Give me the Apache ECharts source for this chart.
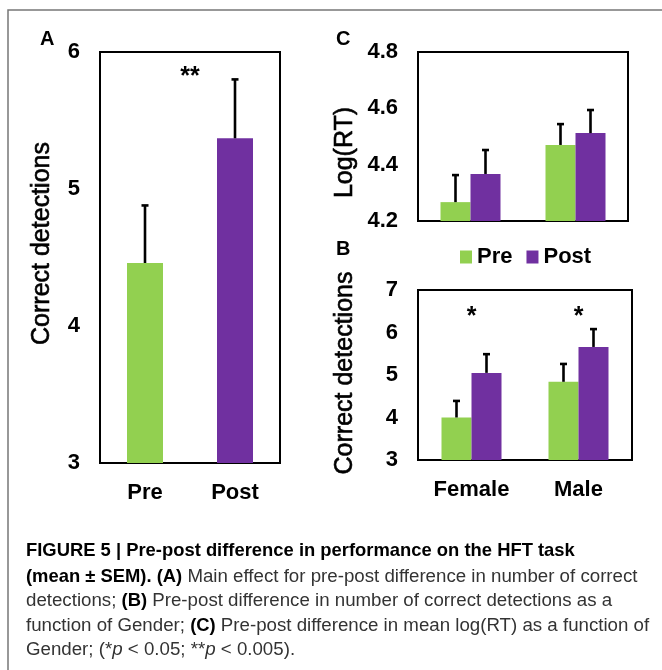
<!DOCTYPE html>
<html>
<head>
<meta charset="UTF-8">
<title>Figure 5</title>
<script src="https://cdn.jsdelivr.net/npm/echarts@6/dist/echarts.min.js"></script>
<style>
    html, body { margin: 0; padding: 0; background: #fff; }
    #main { width: 662px; height: 670px; }
</style>
</head>
<body>
<div id="main"></div>
<script>
// panel A: main effect
var groupsA = ['Pre', 'Post'];
var meanA = [4.46, 5.37];
var semA = [0.42, 0.43];
var axisA = [3, 6, 1];          // min, max, interval

// panel B: correct detections by gender
var genders = ['Female', 'Male'];
var preB = [4.0, 4.84];
var preBsem = [0.39, 0.42];
var postB = [5.05, 5.66];
var postBsem = [0.44, 0.42];
var axisB = [3, 7, 1];

// panel C: log(RT) by gender
var preC = [4.267, 4.470];
var preCsem = [0.096, 0.074];
var postC = [4.367, 4.512];
var postCsem = [0.085, 0.082];
var axisC = [4.2, 4.8, 0.2];

// significance marks
var starsA = ['**'];
var starYA = [5.82];
var starsB = ['*', '*'];
var starYB = [6.36, 6.36];

var GREEN = '#92d050';
var PURPLE = '#7030a0';
var FONT = 'Liberation Sans, Arial, sans-serif';

var myChart = echarts.init(document.getElementById('main'));

// upper half error bar, shifted sideways by "shift" px from the category centre
function errorBars(idx, means, sems, shift) {
    return {
        type: 'custom',
        xAxisIndex: idx,
        yAxisIndex: idx,
        z: 10,
        silent: true,
        encode: {x: 0, y: [1, 2]},
        data: means.map(function (m, i) { return [i, m, m + sems[i]]; }),
        renderItem: function (params, api) {
            var base = api.coord([api.value(0), api.value(1)]);
            var top = api.coord([api.value(0), api.value(2)]);
            var x = base[0] + shift;
            var st = {stroke: '#000', lineWidth: 2.6};
            return {
                type: 'group',
                children: [
                    {type: 'line', shape: {x1: x, y1: base[1], x2: x, y2: top[1]}, style: st},
                    {type: 'line', shape: {x1: x - 3.5, y1: top[1], x2: x + 3.5, y2: top[1]}, style: st}
                ]
            };
        }
    };
}

function starSeries(idx, cats, ys, marks) {
    return {
        type: 'custom',
        xAxisIndex: idx,
        yAxisIndex: idx,
        z: 11,
        silent: true,
        data: cats.map(function (c, i) { return [c[0], c[1], ys[i]]; }),
        renderItem: function (params, api) {
            var p1 = api.coord([api.value(0), api.value(2)]);
            var p2 = api.coord([api.value(1), api.value(2)]);
            return {
                type: 'text',
                style: {
                    text: marks[params.dataIndex],
                    x: (p1[0] + p2[0]) / 2,
                    y: p1[1],
                    align: 'center',
                    verticalAlign: 'middle',
                    font: 'bold 25px ' + FONT,
                    fill: '#000'
                }
            };
        }
    };
}

function yAxisOf(idx, range, name, gap, pad) {
    return {
        type: 'value',
        gridIndex: idx,
        min: range[0],
        max: range[1],
        interval: range[2],
        name: name,
        nameLocation: 'middle',
        nameGap: gap,
        nameTextStyle: {
            fontFamily: FONT, fontSize: 25, color: '#000', padding: pad,
            textBorderColor: '#000', textBorderWidth: 0.6
        },
        axisLine: {show: false},
        axisTick: {show: false},
        splitLine: {show: false},
        axisLabel: {
            margin: 20, color: '#000', fontFamily: FONT, fontSize: 22, fontWeight: 'bold',
            formatter: function (v) { return range[2] < 1 ? v.toFixed(1) : String(v); }
        }
    };
}

function xAxisOf(idx, cats, show) {
    return {
        type: 'category',
        gridIndex: idx,
        data: cats,
        axisLine: {show: false},
        axisTick: {show: false},
        axisLabel: {show: show, margin: 19, color: '#000', fontFamily: FONT, fontSize: 22, fontWeight: 'bold'}
    };
}

var gridStyle = {show: true, borderColor: '#000', borderWidth: 2, backgroundColor: '#fff', containLabel: false};

function captionLine(y, rich) {
    return {
        type: 'text',
        left: 26,
        top: y,
        style: {
            text: rich,
            font: '18.7px ' + FONT,
            fill: '#333',
            rich: {
                b: {fontFamily: FONT, fontSize: 18.4, fontWeight: 'bold', fill: '#000'},
                n: {fontFamily: FONT, fontSize: 18.7, fill: '#333'},
                i: {fontFamily: FONT, fontSize: 18.7, fontStyle: 'italic', fill: '#333'}
            }
        }
    };
}

myChart.setOption({
    backgroundColor: '#fff',
    animation: false,
    grid: [
        Object.assign({left: 100, top: 52, width: 180, height: 411}, gridStyle),
        Object.assign({left: 418, top: 290, width: 214, height: 170}, gridStyle),
        Object.assign({left: 418, top: 52, width: 210, height: 169}, gridStyle)
    ],
    xAxis: [
        xAxisOf(0, groupsA, true),
        xAxisOf(1, genders, true),
        xAxisOf(2, genders, false)
    ],
    yAxis: [
        yAxisOf(0, axisA, 'Correct detections', 45, [0, 0, 0, 28]),
        yAxisOf(1, axisB, 'Correct detections', 60, [0, 0, 0, 4]),
        yAxisOf(2, axisC, 'Log(RT)', 60, [0, 32, 0, 0])
    ],
    legend: {
        data: ['Pre', 'Post'],
        left: 455,
        top: 241,
        icon: 'rect',
        itemWidth: 12,
        itemHeight: 13,
        itemGap: 14,
        textStyle: {fontFamily: FONT, fontSize: 22, fontWeight: 'bold', color: '#000'}
    },
    series: [
        {
            name: 'Main',
            type: 'bar',
            xAxisIndex: 0,
            yAxisIndex: 0,
            barWidth: 36,
            data: meanA.map(function (v, i) {
                return {value: v, itemStyle: {color: i === 0 ? GREEN : PURPLE}};
            })
        },
        errorBars(0, meanA, semA, 0),
        starSeries(0, [[0, 1]], starYA, starsA),

        {name: 'Pre', type: 'bar', xAxisIndex: 1, yAxisIndex: 1, barWidth: 30, barGap: '0%', itemStyle: {color: GREEN}, data: preB},
        {name: 'Post', type: 'bar', xAxisIndex: 1, yAxisIndex: 1, barWidth: 30, barGap: '0%', itemStyle: {color: PURPLE}, data: postB},
        errorBars(1, preB, preBsem, -15),
        errorBars(1, postB, postBsem, 15),
        starSeries(1, [[0, 0], [1, 1]], starYB, starsB),

        {name: 'Pre', type: 'bar', xAxisIndex: 2, yAxisIndex: 2, barWidth: 30, barGap: '0%', itemStyle: {color: GREEN}, data: preC},
        {name: 'Post', type: 'bar', xAxisIndex: 2, yAxisIndex: 2, barWidth: 30, barGap: '0%', itemStyle: {color: PURPLE}, data: postC},
        errorBars(2, preC, preCsem, -15),
        errorBars(2, postC, postCsem, 15)
    ],
    graphic: [
        // outer frame (left and top edges)
        {type: 'polyline', silent: true, shape: {points: [[8, 670], [8, 10], [662, 10]]}, style: {stroke: '#777', lineWidth: 1.5, fill: null}},
        {type: 'text', left: 40, top: 29, style: {text: 'A', font: 'bold 20px ' + FONT, fill: '#000'}},
        {type: 'text', left: 336, top: 29, style: {text: 'C', font: 'bold 20px ' + FONT, fill: '#000'}},
        {type: 'text', left: 336, top: 239, style: {text: 'B', font: 'bold 20px ' + FONT, fill: '#000'}},
        captionLine(542, '{b|FIGURE 5 | Pre-post difference in performance on the HFT task}'),
        captionLine(567, '{b|(mean \u00b1 SEM). (A)}{n| Main effect for pre-post difference in number of correct}'),
        captionLine(591, '{n|detections; }{b|(B)}{n| Pre-post difference in number of correct detections as a}'),
        captionLine(616, '{n|function of Gender; }{b|(C)}{n| Pre-post difference in mean log(RT) as a function of}'),
        captionLine(640, '{n|Gender; (*}{i|p}{n| < 0.05; **}{i|p}{n| < 0.005).}')
    ]
});
</script>
</body>
</html>
